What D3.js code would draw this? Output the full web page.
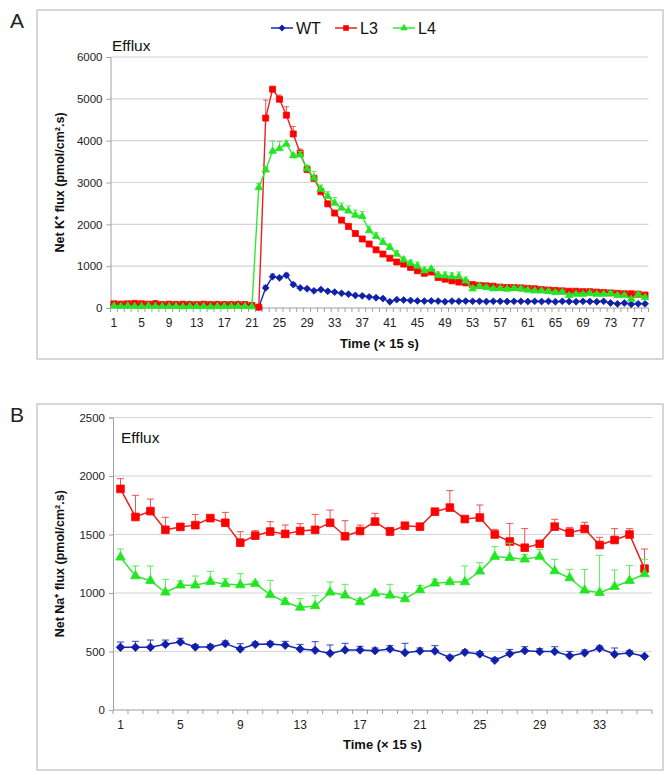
<!DOCTYPE html>
<html><head><meta charset="utf-8">
<script src="https://cdn.jsdelivr.net/npm/d3@7"></script>
<style>body{margin:0;background:#fff}svg{display:block}</style>
</head><body>
<svg id="c" width="670" height="775"></svg>
<script>
// ---------- DATA ----------
const seriesNames = ["WT", "L3", "L4"];

// Panel A: Net K+ flux, 78 time points
const timeK = d3.range(1, 79);
const kTickLabels = [1,5,9,13,17,21,25,29,33,37,41,45,49,53,57,61,65,69,73,77];
const kYTicks = [0,1000,2000,3000,4000,5000,6000];

const WT_K = [80,90,70,80,60,70,110,80,70,90,80,90,70,80,80,90,80,80,90,80,70,
  20,480,750,720,780,560,480,460,410,440,400,380,350,330,300,290,265,245,225,150,
  200,190,180,170,165,170,165,150,165,
  160,165,160,160,155,160,160,155,160,160,155,160,155,160,150,160,155,150,160,155,150,160,
  120,100,120,90,100,100];
const L3_K = [100,90,100,110,100,90,100,80,90,80,90,80,80,90,80,80,80,80,80,80,60,
  20,4540,5230,4990,4610,4160,3700,3310,3100,2780,
  2490,2270,2100,1950,1780,1650,1530,1390,1290,1190,
  1100,1050,970,890,830,860,730,690,650,620,
  600,560,540,530,520,500,490,490,480,470,
  460,440,430,420,410,400,400,390,390,380,
  370,360,350,340,340,330,310];
const L4_K = [50,40,50,40,40,50,40,40,40,40,30,40,40,40,30,40,40,40,40,40,30,
  2880,3300,3750,3810,3920,3640,3660,3330,3110,2840,
  2670,2510,2390,2320,2220,2190,1850,1710,1570,1450,
  1290,1150,1070,1000,890,930,780,770,750,750,
  650,460,520,490,460,470,450,470,460,430,
  410,410,400,370,380,300,330,330,350,330,
  330,350,300,300,210,320,250];

const errWT_K = [30,30,30,30,30,30,30,30,30,30,30,30,30,30,30,30,30,30,30,30,30,
  0,60,60,40,50,40,30,30,30,30,30,30,30,30,30,30,30,30,30,30,
  20,20,20,20,20,20,20,20,20,
  20,20,20,20,20,20,20,20,20,20,20,20,20,20,20,20,20,20,20,20,20,20,
  20,20,20,20,20,20];
const errL3_K = [30,30,30,30,30,30,30,30,30,30,30,30,30,30,30,30,30,30,30,30,30,
  0,430,0,100,200,180,100,80,60,40,
  40,40,40,40,40,40,40,40,40,40,
  40,40,40,40,40,40,40,40,40,40,
  40,40,40,40,40,40,40,40,40,40,
  40,40,40,40,40,40,40,40,40,40,
  40,40,40,40,40,40,40];
const errL4_K = [20,20,20,20,20,20,20,20,20,20,20,20,20,20,20,20,20,20,20,20,20,
  100,60,240,170,80,60,80,80,150,100,
  110,130,120,120,120,120,110,100,100,80,
  80,70,70,100,90,60,80,90,90,110,
  90,60,40,40,40,40,40,40,40,40,
  40,40,40,40,40,40,40,40,40,40,
  40,40,40,40,40,40,40];

// Panel B: Net Na+ flux, 36 time points
const timeNa = d3.range(1, 37);
const naTickLabels = [1,5,9,13,17,21,25,29,33];
const naYTicks = [0,500,1000,1500,2000,2500];

const WT_Na = [536,536,536,561,581,538,538,567,521,561,564,553,521,510,484,513,513,507,
  521,490,504,504,447,493,479,425,481,507,499,499,464,487,527,476,487,459];
const L3_Na = [1890,1650,1700,1540,1565,1580,1640,1600,1430,1490,1525,1505,1530,1540,1600,1485,1530,1610,
  1525,1575,1567,1695,1730,1632,1645,1500,1440,1387,1420,1567,1516,1547,1410,1453,1500,1208];
const L4_Na = [1305,1145,1105,1006,1066,1066,1097,1077,1068,1080,986,923,877,889,1006,980,923,997,
  980,949,1026,1083,1094,1094,1185,1311,1302,1288,1311,1188,1128,1023,1003,1054,1105,1162];

const errWT_Na = [45,51,62,37,32,20,20,23,46,20,20,34,40,74,72,57,31,23,
  29,80,26,46,20,20,20,20,37,34,25,42,37,26,20,54,20,0];
const errL3_Na = [87,185,103,107,15,90,15,89,94,43,85,76,63,132,109,133,51,71,
  36,15,15,15,145,15,107,44,155,163,15,63,45,57,66,97,50,168];
const errL4_Na = [71,86,126,111,37,79,88,48,97,17,122,29,75,88,88,94,29,20,
  94,54,37,34,20,137,74,85,123,42,60,100,74,179,319,143,131,126];

// ---------- STYLE ----------
const FONT = "Arial, 'Liberation Sans', sans-serif";
const colors = {WT: "#1020a8", L3: "#ff0000", L4: "#22e622"};
const lineColors = {WT: "#1a2ab0", L3: "#e82020", L4: "#33e833"};
const errColors = {WT: "#3040c0", L3: "#f05050", L4: "#55ee55"};
const shapes = {WT: d3.symbolDiamond2, L3: d3.symbolSquare2, L4: d3.symbolTriangle2};

const svg = d3.select("#c");

function drawPanel(o) {
  const g = svg.append("g");
  g.append("rect").attr("x", o.frame[0]).attr("y", o.frame[1])
    .attr("width", o.frame[2]).attr("height", o.frame[3])
    .attr("fill", "#fff").attr("stroke", "#bdbdbd").attr("stroke-width", 1.2);
  g.append("text").attr("x", 10).attr("y", o.frame[1] + 18)
    .attr("font-family", FONT).attr("font-size", 21).attr("fill", "#222").text(o.letter);

  const x = d3.scaleBand().domain(o.cats).range([o.left, o.right]).padding(0);
  const y = d3.scaleLinear().domain([0, o.yMax]).range([o.bottom, o.top]);
  const cx = d => x(d) + x.bandwidth() / 2;

  g.selectAll(null).data(o.yTicks.filter(t => t > 0)).join("line")
    .attr("x1", o.left).attr("x2", o.right)
    .attr("y1", d => y(d)).attr("y2", d => y(d))
    .attr("stroke", "#d4d4d4").attr("stroke-width", 1.2);

  const ya = g.append("g").attr("transform", `translate(${o.left},0)`)
    .call(d3.axisLeft(y).tickValues(o.yTicks).tickSize(4).tickPadding(4).tickFormat(d3.format("d")));
  ya.select(".domain").attr("stroke", "#a0a0a0");
  ya.selectAll(".tick line").attr("stroke", "#a0a0a0");
  ya.selectAll("text").attr("font-family", FONT).attr("font-size", 11.5).attr("fill", "#222");

  const xa = g.append("g");
  xa.append("line").attr("x1", o.left).attr("x2", o.right)
    .attr("y1", o.bottom).attr("y2", o.bottom).attr("stroke", "#a0a0a0").attr("stroke-width", 1.2);
  const bounds = o.cats.map(c => x(c)).concat([o.right]);
  xa.selectAll(null).data(bounds).join("line")
    .attr("x1", d => d).attr("x2", d => d)
    .attr("y1", o.bottom).attr("y2", o.bottom + 4).attr("stroke", "#a0a0a0");
  const xl = g.append("g").attr("transform", `translate(0,${o.bottom})`)
    .call(d3.axisBottom(x).tickValues(o.xLabels).tickSize(0).tickPadding(10));
  xl.select(".domain").remove();
  xl.selectAll("text").attr("font-family", FONT).attr("font-size", 12).attr("fill", "#222");

  g.append("text").attr("x", (o.left + o.right) / 2).attr("y", o.xTitleY)
    .attr("text-anchor", "middle").attr("font-family", FONT).attr("font-weight", "bold")
    .attr("font-size", 13).attr("fill", "#111").text("Time (\u00D7 15 s)");
  g.append("text").attr("transform", `translate(${o.yTitleX},${(o.top + o.bottom) / 2}) rotate(-90)`)
    .attr("text-anchor", "middle").attr("font-family", FONT).attr("font-weight", "bold")
    .attr("font-size", 12.5).attr("fill", "#111").text(o.yTitle);

  g.append("text").attr("x", o.effluxPos[0]).attr("y", o.effluxPos[1])
    .attr("font-family", FONT).attr("font-size", 15.5).attr("fill", "#111").text("Efflux");

  o.series.forEach(s => {
    const pts = o.cats.map((c, i) => ({c, v: s.values[i], e: s.err[i]}));
    const cap = o.cap;
    const eg = g.append("g").attr("stroke", errColors[s.name]).attr("stroke-width", 1);
    pts.filter(p => p.e > 0).forEach(p => {
      eg.append("line").attr("x1", cx(p.c)).attr("x2", cx(p.c))
        .attr("y1", y(p.v)).attr("y2", y(p.v + p.e));
      eg.append("line").attr("x1", cx(p.c) - cap).attr("x2", cx(p.c) + cap)
        .attr("y1", y(p.v + p.e)).attr("y2", y(p.v + p.e));
    });
    g.append("path").datum(pts)
      .attr("d", d3.line().x(p => cx(p.c)).y(p => y(p.v)))
      .attr("fill", "none").attr("stroke", lineColors[s.name]).attr("stroke-width", o.lw);
    g.selectAll(null).data(pts).join("path")
      .attr("transform", p => `translate(${cx(p.c)},${y(p.v)})`)
      .attr("d", d3.symbol().type(shapes[s.name]).size(o.msize[s.name]))
      .attr("fill", colors[s.name]).attr("stroke", colors[s.name]).attr("stroke-width", 0.8);
  });
  return {x, y};
}

// Panel A
drawPanel({
  letter: "A", frame: [37, 10, 626, 349],
  cats: timeK, xLabels: kTickLabels, yTicks: kYTicks, yMax: 6000,
  left: 110.5, right: 648.5, top: 57, bottom: 308,
  xTitleY: 348, yTitleX: 64, yTitle: "Net K\u207A flux (pmol/cm\u00B2.s)",
  effluxPos: [112, 51],
  cap: 2.5, lw: 1.4,
  msize: {WT: 30, L3: 46, L4: 40},
  series: [
    {name: "WT", values: WT_K, err: errWT_K},
    {name: "L3", values: L3_K, err: errL3_K},
    {name: "L4", values: L4_K, err: errL4_K}
  ]
});

// Panel B
drawPanel({
  letter: "B", frame: [37, 404, 626, 366],
  cats: timeNa, xLabels: naTickLabels, yTicks: naYTicks, yMax: 2500,
  left: 113, right: 652, top: 417.5, bottom: 710,
  xTitleY: 749, yTitleX: 64, yTitle: "Net Na\u207A flux (pmol/cm\u00B2.s)",
  effluxPos: [121, 443],
  cap: 3.5, lw: 1.5,
  msize: {WT: 45, L3: 75, L4: 65},
  series: [
    {name: "WT", values: WT_Na, err: errWT_Na},
    {name: "L3", values: L3_Na, err: errL3_Na},
    {name: "L4", values: L4_Na, err: errL4_Na}
  ]
});

// Legend (panel A)
const leg = svg.append("g").attr("transform", "translate(271,28)");
const legX = [0, 64, 122];
seriesNames.forEach((n, i) => {
  const lg = leg.append("g").attr("transform", `translate(${legX[i]},0)`);
  lg.append("line").attr("x1", 0).attr("x2", 22).attr("y1", 0).attr("y2", 0)
    .attr("stroke", lineColors[n]).attr("stroke-width", 1.5);
  lg.append("path").attr("transform", "translate(11,0)")
    .attr("d", d3.symbol().type(shapes[n]).size(n === "WT" ? 30 : 40)).attr("fill", colors[n]);
  lg.append("text").attr("x", 25).attr("y", 0).attr("dy", "0.35em")
    .attr("font-family", FONT).attr("font-size", 16).attr("fill", "#111").text(n);
});
</script>
</body></html>
